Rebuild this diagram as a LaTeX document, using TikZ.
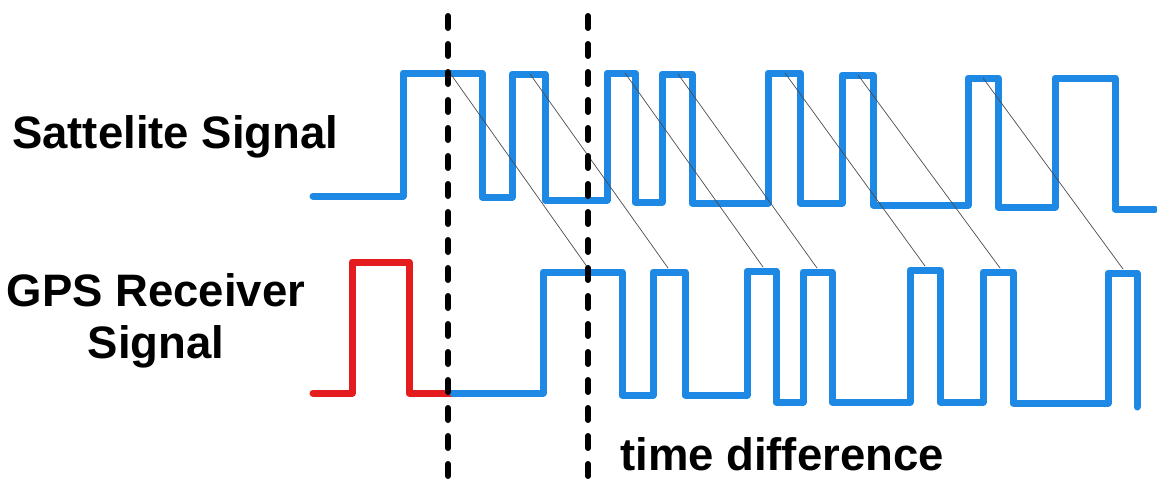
\documentclass[tikz,border=0pt]{standalone}
\usepackage{fontspec}
\setmainfont{Liberation Sans}
\usepackage{xcolor}
\usetikzlibrary{positioning}
\definecolor{sigblue}{RGB}{30,136,229}
\definecolor{sigred}{RGB}{228,28,30}

\begin{document}
\begin{tikzpicture}[x=1pt, y=-1pt, line cap=round, line join=round]
            \useasboundingbox (0,0) rectangle (1157,479);
            \tikzset{
                wave/.style={line width=7pt, sigblue},
                marker/.style={line width=6pt, dash pattern=on 12pt off 16pt, dash phase=12pt},
                link/.style={black!70, line width=0.7pt},
                label/.style={font=\fontsize{45.5}{52}\selectfont\bfseries, inner sep=0pt}
            }

            % labels
            \node[label, anchor=base west] (sat) at (12,148) {Sattelite Signal};
            \node[label, anchor=base, align=center] (gps) at (156,358) {GPS Receiver\\Signal};
            \node[label, anchor=base west] (diff) at (620,470) {time difference};

            % satellite signal
            \draw[wave] (313,196) -| (403,73) -| (482,197) -| (512,74) -| (545,200) -| (607,73)
                -| (635,202) -| (662,74) -| (692,203) -| (768,73) -| (800,203) -| (842,75)
                -| (873,205) -| (968,78) -| (998,207) -| (1055,78) -| (1115,209) -- (1155,209);

            % receiver signal: local pulse, then the code
            \draw[wave, sigred] (313,393) -| (352,262) -| (409,393) -- (453,393);
            \draw[wave] (453,393) -| (543,272) -| (622,395) -| (653,272) -| (685,395) -| (747,271)
                -| (776,402) -| (803,272) -| (832,402) -| (910,270) -| (940,402) -| (983,272)
                -| (1013,403) -| (1108,273) -| (1137,407);

            % matching edges
            \foreach \xa/\ya/\xb/\yb [count=\i] in {450/73/588/268, 530/74/668/268, 625/73/763/267,
                    678/74/817/268, 785/73/925/266, 858/75/1000/268, 983/78/1123/269} {
                \coordinate (s\i) at (\xa,\ya);
                \coordinate (r\i) at (\xb,\yb);
                \draw[link] (s\i) -- (r\i);
            }

            % time markers
            \coordinate (m1top) at (448,0);
            \coordinate (m1bot) at (448,479);
            \coordinate (m2top) at (588,0);
            \coordinate (m2bot) at (588,479);
            \draw[marker] (m1top) -- (m1bot);
            \draw[marker] (m2top) -- (m2bot);
        \end{tikzpicture}
\end{document}
